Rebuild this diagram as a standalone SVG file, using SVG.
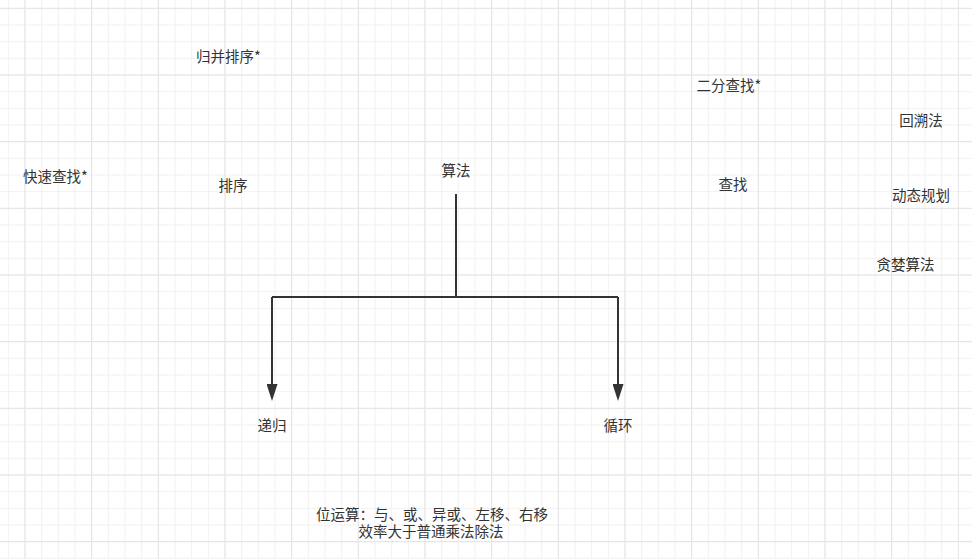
<svg xmlns="http://www.w3.org/2000/svg" width="972" height="559" viewBox="0 0 972 559">
<style>
.minor{fill:none;stroke:#f1f1f1;stroke-width:1}
.major{fill:none;stroke:#e4e4e4;stroke-width:1}
.lbl{font-family:"Noto Sans CJK SC","Noto Sans",sans-serif;font-size:14.5px;fill:#333333;text-anchor:middle;dominant-baseline:central}
.edge{fill:none;stroke:#333333;stroke-width:2}
</style>
<defs>
<marker id="arr" viewBox="0 0 17 11" markerWidth="17" markerHeight="11" refX="0" refY="5.5" orient="auto" markerUnits="userSpaceOnUse">
<path d="M0,0 L17,5.5 L0,11 z" fill="#333333"/>
</marker>
</defs>
<rect width="972" height="559" fill="#ffffff"/>
<g id="grid">
<path class="minor" d="M8.333,0v559m16.6667-559v559m16.6667-559v559m16.6667-559v559m16.6667-559v559m16.6667-559v559m16.6667-559v559m16.6667-559v559m16.6667-559v559m16.6667-559v559m16.6667-559v559m16.6667-559v559m16.6667-559v559m16.6667-559v559m16.6667-559v559m16.6667-559v559m16.6667-559v559m16.6667-559v559m16.6667-559v559m16.6667-559v559m16.6667-559v559m16.6667-559v559m16.6667-559v559m16.6667-559v559m16.6667-559v559m16.6667-559v559m16.6667-559v559m16.6667-559v559m16.6667-559v559m16.6667-559v559m16.6667-559v559m16.6667-559v559m16.6667-559v559m16.6667-559v559m16.6667-559v559m16.6667-559v559m16.6667-559v559m16.6667-559v559m16.6667-559v559m16.6667-559v559m16.6667-559v559m16.6667-559v559m16.6667-559v559m16.6667-559v559m16.6667-559v559m16.6667-559v559m16.6667-559v559m16.6667-559v559m16.6667-559v559m16.6667-559v559m16.6667-559v559m16.6667-559v559m16.6667-559v559m16.6667-559v559m16.6667-559v559m16.6667-559v559m16.6667-559v559"/>
<path class="minor" d="M0,8.333h972m-972,16.6667h972m-972,16.6667h972m-972,16.6667h972m-972,16.6667h972m-972,16.6667h972m-972,16.6667h972m-972,16.6667h972m-972,16.6667h972m-972,16.6667h972m-972,16.6667h972m-972,16.6667h972m-972,16.6667h972m-972,16.6667h972m-972,16.6667h972m-972,16.6667h972m-972,16.6667h972m-972,16.6667h972m-972,16.6667h972m-972,16.6667h972m-972,16.6667h972m-972,16.6667h972m-972,16.6667h972m-972,16.6667h972m-972,16.6667h972m-972,16.6667h972m-972,16.6667h972m-972,16.6667h972m-972,16.6667h972m-972,16.6667h972m-972,16.6667h972m-972,16.6667h972m-972,16.6667h972m-972,16.6667h972"/>
<path class="major" d="M25,0v559m66.6667-559v559m66.6667-559v559m66.6667-559v559m66.6667-559v559m66.6667-559v559m66.6667-559v559m66.6667-559v559m66.6667-559v559m66.6667-559v559m66.6667-559v559m66.6667-559v559m66.6667-559v559m66.6667-559v559m66.6667-559v559"/>
<path class="major" d="M0,8.333h972m-972,66.6667h972m-972,66.6667h972m-972,66.6667h972m-972,66.6667h972m-972,66.6667h972m-972,66.6667h972m-972,66.6667h972m-972,66.6667h972"/>
</g>
<g id="connectors">
<path class="edge" d="M456,194V297"/>
<path class="edge" d="M272,297H618"/>
<path class="edge" d="M272,297V384" marker-end="url(#arr)"/>
<path class="edge" d="M618,297V384" marker-end="url(#arr)"/>
</g>
<g id="n-guibing"><text class="lbl" x="228.5" y="55">归并排序*</text></g>
<g id="n-kuaisu"><text class="lbl" x="55.5" y="175">快速查找*</text></g>
<g id="n-paixu"><text class="lbl" x="233" y="184">排序</text></g>
<g id="n-suanfa"><text class="lbl" x="456" y="169">算法</text></g>
<g id="n-digui"><text class="lbl" x="272" y="424.5">递归</text></g>
<g id="n-xunhuan"><text class="lbl" x="618" y="424.5">循环</text></g>
<g id="n-erfen"><text class="lbl" x="729" y="84.5">二分查找*</text></g>
<g id="n-huisu"><text class="lbl" x="921" y="119.5">回溯法</text></g>
<g id="n-chazhao"><text class="lbl" x="733" y="183.5">查找</text></g>
<g id="n-dongtai"><text class="lbl" x="921" y="194">动态规划</text></g>
<g id="n-tanlan"><text class="lbl" x="905.5" y="263">贪婪算法</text></g>
<g id="n-weiyunsuan"><text class="lbl"><tspan x="432" y="513">位运算：与、或、异或、左移、右移</tspan><tspan x="431" y="530">效率大于普通乘法除法</tspan></text></g>
</svg>
